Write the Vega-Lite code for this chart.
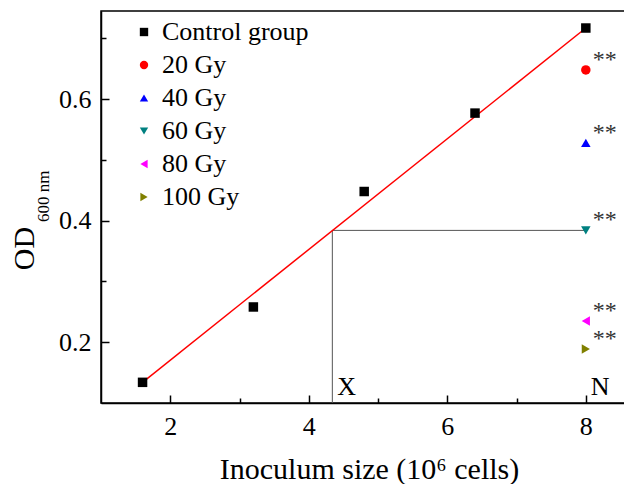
{
  "$schema": "https://vega.github.io/schema/vega-lite/v6.json",
  "width": 525,
  "height": 392,
  "autosize": {"type": "none"},
  "padding": {"left": 101, "top": 11, "right": 0, "bottom": 81},
  "background": "white",
  "config": {
    "view": {"stroke": "black", "strokeWidth": 1.5},
    "font": "Liberation Serif",
    "axis": {
      "domainColor": "black", "domainWidth": 1.5,
      "tickColor": "black", "tickWidth": 1.5,
      "labelFont": "Liberation Serif", "labelFontSize": 26, "labelColor": "black",
      "titleFont": "Liberation Serif", "titleFontSize": 30, "titleFontWeight": "normal", "titleColor": "black",
      "grid": false
    },
    "legend": {
      "labelFont": "Liberation Serif", "labelFontSize": 26, "labelColor": "black",
      "symbolSize": 70, "rowPadding": 7, "labelOffset": 5, "symbolStrokeWidth": 0, "padding": 0
    }
  },
  "datasets": {
    "points": [
      {"group": "Control group", "x": 1.6, "y": 0.134},
      {"group": "Control group", "x": 3.2, "y": 0.258},
      {"group": "Control group", "x": 4.8, "y": 0.448},
      {"group": "Control group", "x": 6.4, "y": 0.577},
      {"group": "Control group", "x": 8, "y": 0.717},
      {"group": "20 Gy", "x": 8, "y": 0.648},
      {"group": "40 Gy", "x": 8, "y": 0.528},
      {"group": "60 Gy", "x": 8, "y": 0.384},
      {"group": "80 Gy", "x": 8, "y": 0.235},
      {"group": "100 Gy", "x": 8, "y": 0.189}
    ],
    "guides": [
      {"x": 4.34, "y": 0.1, "x2": 4.34, "y2": 0.384},
      {"x": 4.34, "y": 0.384, "x2": 8, "y2": 0.384}
    ],
    "fit": [{"x": 1.6, "y": 0.134, "x2": 8, "y2": 0.717}],
    "letters": [
      {"x": 4.34, "y": 0.1, "label": "X"},
      {"x": 8, "y": 0.1, "label": "N"}
    ],
    "sub": [{"x": 0.249, "y": 0.44, "label": "600 nm"}]
  },
  "layer": [
    {
      "data": {"name": "guides"},
      "mark": {"type": "rule", "color": "#555555", "strokeWidth": 1},
      "encoding": {
        "x": {
          "field": "x", "type": "quantitative",
          "scale": {"domain": [1, 8.58], "nice": false, "zero": false},
          "axis": {
            "title": "Inoculum size (10⁶ cells)",
            "values": [2, 3, 4, 5, 6, 7, 8],
            "labelExpr": "datum.value % 2 == 0 ? datum.value : ''",
            "tickSize": {"condition": {"test": "datum.value % 2 == 1", "value": -5}, "value": -8},
            "labelPadding": 39,
            "labelBaseline": "alphabetic",
            "titleX": 268, "titleY": 75, "titleAlign": "center", "titleBaseline": "alphabetic"
          }
        },
        "y": {
          "field": "y", "type": "quantitative",
          "scale": {"domain": [0.1, 0.745], "nice": false, "zero": false},
          "axis": {
            "title": "OD",
            "values": [0.2, 0.3, 0.4, 0.5, 0.6, 0.7],
            "labelExpr": "round(datum.value * 10) % 2 == 0 ? format(datum.value, '.1f') : ''",
            "tickSize": {"condition": {"test": "round(datum.value * 10) % 2 == 1", "value": -5}, "value": -8},
            "labelPadding": 18,
            "titleX": -68, "titleY": 237, "titleAlign": "center", "titleBaseline": "alphabetic", "titleAngle": 270
          }
        },
        "x2": {"field": "x2"},
        "y2": {"field": "y2"}
      }
    },
    {
      "data": {"name": "fit"},
      "mark": {"type": "rule", "color": "#ff0000", "strokeWidth": 1.5},
      "encoding": {
        "x": {"field": "x", "type": "quantitative"},
        "y": {"field": "y", "type": "quantitative"},
        "x2": {"field": "x2"},
        "y2": {"field": "y2"}
      }
    },
    {
      "data": {"name": "points"},
      "mark": {"type": "point", "filled": true, "opacity": 1, "size": 90},
      "encoding": {
        "x": {"field": "x", "type": "quantitative"},
        "y": {"field": "y", "type": "quantitative"},
        "color": {
          "field": "group", "type": "nominal",
          "scale": {
            "domain": ["Control group", "20 Gy", "40 Gy", "60 Gy", "80 Gy", "100 Gy"],
            "range": ["#000000", "#ff0000", "#0000ff", "#008080", "#ff00ff", "#808000"]
          },
          "legend": {"title": null, "orient": "none", "legendX": 30, "legendY": 8}
        },
        "shape": {
          "field": "group", "type": "nominal",
          "scale": {
            "domain": ["Control group", "20 Gy", "40 Gy", "60 Gy", "80 Gy", "100 Gy"],
            "range": ["square", "circle", "triangle-up", "triangle-down", "triangle-left", "triangle-right"]
          },
          "legend": {"title": null, "orient": "none", "legendX": 30, "legendY": 8}
        }
      }
    },
    {
      "data": {"name": "points"},
      "transform": [{"filter": "datum.group != 'Control group'"}],
      "mark": {"type": "text", "text": "**", "align": "left", "baseline": "alphabetic", "dx": 7, "dy": -3, "fontSize": 24, "color": "#333333", "font": "Liberation Serif"},
      "encoding": {
        "x": {"field": "x", "type": "quantitative"},
        "y": {"field": "y", "type": "quantitative"}
      }
    },
    {
      "data": {"name": "letters"},
      "mark": {"type": "text", "align": "left", "baseline": "alphabetic", "dx": 5, "dy": -8, "fontSize": 26, "color": "black", "font": "Liberation Serif"},
      "encoding": {
        "x": {"field": "x", "type": "quantitative"},
        "y": {"field": "y", "type": "quantitative"},
        "text": {"field": "label"}
      }
    },
    {
      "data": {"name": "sub"},
      "mark": {"type": "text", "align": "center", "baseline": "alphabetic", "angle": 270, "fontSize": 17, "color": "black", "font": "Liberation Serif"},
      "encoding": {
        "x": {"field": "x", "type": "quantitative"},
        "y": {"field": "y", "type": "quantitative"},
        "text": {"field": "label"}
      }
    }
  ]
}
